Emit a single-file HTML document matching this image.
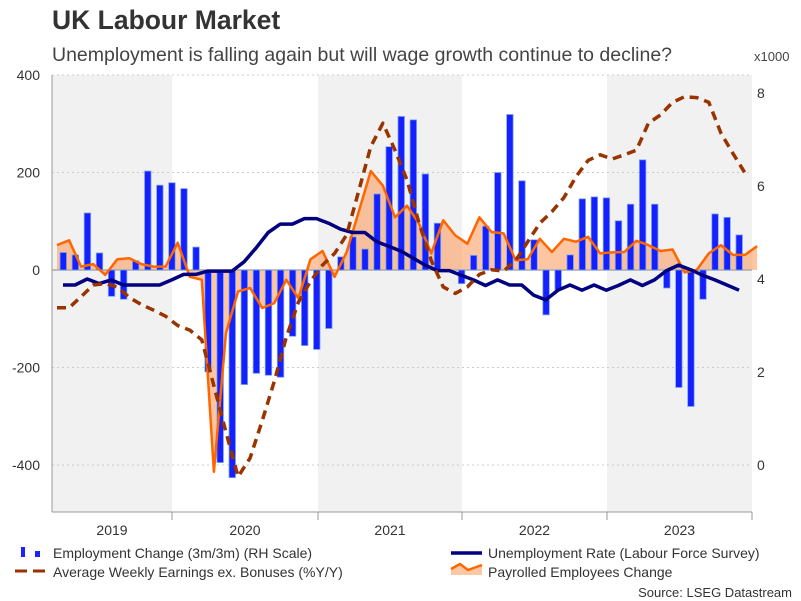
<!DOCTYPE html>
<html><head><meta charset="utf-8">
<style>
body{margin:0;background:#fff;width:801px;height:601px;overflow:hidden;font-family:"Liberation Sans",sans-serif;}
svg{display:block}
</style></head>
<body>
<svg id="chart" width="801" height="601">
<text x="52" y="29" font-size="26.5" font-weight="bold" fill="#333">UK Labour Market</text>
<text x="52" y="61" font-size="19.5" fill="#444">Unemployment is falling again but will wage growth continue to decline?</text>
<text x="754" y="61" font-size="13" fill="#444">x1000</text>
<g id="bands"></g><g id="grid"></g><g id="area"></g><g id="bars"></g><g id="lines"></g><g id="axes"></g>
<g font-size="14" fill="#333">
<g><rect x="21" y="547" width="4" height="10" fill="#1a22ff"/><rect x="35" y="551" width="5" height="6" fill="#1a22ff"/><text x="53" y="558">Employment Change (3m/3m) (RH Scale)</text></g>
<g><line x1="15" y1="571" x2="46" y2="571" stroke="#993300" stroke-width="3" stroke-dasharray="12,6"/><text x="53" y="577">Average Weekly Earnings ex. Bonuses (%Y/Y)</text></g>
<g><line x1="451" y1="553" x2="482" y2="553" stroke="#000080" stroke-width="3.5"/><text x="488" y="558">Unemployment Rate (Labour Force Survey)</text></g>
<g><path d="M451 569 L460 564 L468 570 L482 565 L482 575 L451 575Z" fill="#fbc7a4"/><path d="M451 569 L460 564 L468 570 L482 565" fill="none" stroke="#ff6600" stroke-width="2.5"/><text x="488" y="577">Payrolled Employees Change</text></g>
</g>
<text x="792" y="597" font-size="13" fill="#333" text-anchor="end">Source: LSEG Datastream</text>
</svg>
<script>
const years=["2019","2020","2021","2022","2023"];
const leftTicks=[400,200,0,-200,-400];
const rightTicks=[8,6,4,2,0];
const employmentChange=[36,31,117,35,-54,-60,19,203,174,179,167,47,-209,-395,-426,-235,-212,-216,-220,-136,-155,-163,-120,27,68,43,156,253,315,308,197,96,0,-28,30,90,200,319,183,62,-92,-41,31,146,150,148,101,135,226,135,-37,-241,-280,-60,115,108,72];
const payrolled=[51,61,7,12,-10,22,24,12,7,7,56,-14,-20,-414,-129,-44,-37,-78,-68,-20,-58,22,39,-14,37,120,203,173,108,132,95,34,102,71,54,108,78,75,20,22,64,37,64,58,68,34,36,37,60,51,39,42,-5,0,34,51,31,31,49];
const unemployment=[3.87,3.87,4.0,3.9,3.98,3.87,3.87,3.87,3.87,3.98,4.1,4.1,4.17,4.17,4.17,4.37,4.67,5.0,5.18,5.18,5.3,5.3,5.2,5.07,5.0,5.0,4.8,4.7,4.6,4.45,4.3,4.18,4.18,4.08,3.98,3.86,3.98,3.87,3.87,3.65,3.55,3.76,3.87,3.76,3.87,3.76,3.86,3.98,3.86,3.98,4.18,4.3,4.2,4.08,3.98,3.87,3.76];
const earnings=[3.38,3.38,3.62,3.87,3.9,3.83,3.6,3.45,3.33,3.2,3.0,2.9,2.69,1.7,0.7,-0.25,0.15,0.95,1.8,2.75,3.5,3.95,4.3,4.55,4.95,5.9,6.85,7.35,6.77,6.13,5.2,4.4,3.83,3.69,3.83,4.1,4.2,4.17,4.4,4.8,5.2,5.45,5.75,6.2,6.55,6.67,6.58,6.67,6.77,7.35,7.53,7.8,7.92,7.9,7.8,7.14,6.7,6.28];

const NS="http://www.w3.org/2000/svg";
const X0=52,X1=752,YT=75,YB=512;
const xm=i=>57+i*12.07;
const yL=v=>270-v*0.4875;
const yR=v=>465-v*46.5;
const xYear=k=>[52,172,318,462,607,752][k];
function mk(tag,attrs,parent){const e=document.createElementNS(NS,tag);for(const k in attrs)e.setAttribute(k,attrs[k]);document.getElementById(parent).appendChild(e);return e;}

years.forEach((y,k)=>{
  if(k%2===0){const r=mk('rect',{x:xYear(k),y:YT,width:xYear(k+1)-xYear(k),height:YB-YT,fill:'#f1f1f1'},'bands');
  
  }
  const t=mk('text',{x:(xYear(k)+xYear(k+1))/2,y:535,'font-size':14,fill:'#333','text-anchor':'middle'},'axes');t.textContent=y;
  
  
});
for(let k=1;k<=5;k++){const l=mk('line',{x1:xYear(k),x2:xYear(k),y1:512,y2:520,stroke:'#999'},'axes');
  
  }
leftTicks.forEach(v=>{
  if(v!==0){const g=mk('line',{x1:X0,x2:X1,y1:yL(v),y2:yL(v),stroke:'#ccc','stroke-dasharray':'2,3'},'grid');
  
  }
  const t=mk('text',{x:40,y:yL(v)+5,'font-size':14,fill:'#333','text-anchor':'end'},'axes');t.textContent=v;
  
  
});
rightTicks.forEach(v=>{
  const t=mk('text',{x:757,y:yR(v)+5,'font-size':14,fill:'#333'},'axes');t.textContent=v;
  
  
});
let a=mk('line',{x1:X0,x2:X0,y1:YT,y2:YB,stroke:'#999'},'axes');


a=mk('line',{x1:X0,x2:X1,y1:YB,y2:YB,stroke:'#999'},'axes');



let pts=payrolled.map((v,i)=>xm(i).toFixed(1)+','+yL(v).toFixed(1));
let ar=mk('path',{d:'M'+xm(0)+','+yL(0)+' L'+pts.join(' L')+' L'+xm(payrolled.length-1)+','+yL(0)+'Z',fill:'#fb9e62','fill-opacity':0.6},'area');


let z=mk('line',{x1:X0,x2:X1,y1:yL(0),y2:yL(0),stroke:'#aaa','stroke-width':1.5},'area');



employmentChange.forEach((v,i)=>{
  const y0=yL(0), y1=yL(v);
  const r=mk('rect',{x:xm(i+0.5)-3,y:Math.min(y0,y1),width:6.5,height:Math.max(1,Math.abs(y1-y0)),fill:'#1420ff',stroke:'#7fa6e6','stroke-width':0.8},'bars');
  
  
});
let pl=mk('polyline',{points:pts.join(' '),fill:'none',stroke:'#ff6600','stroke-width':2.5,'stroke-linejoin':'round'},'lines');


let ul=mk('polyline',{points:unemployment.map((v,i)=>xm(i+0.5).toFixed(1)+','+yR(v).toFixed(1)).join(' '),fill:'none',stroke:'#000080','stroke-width':3.5,'stroke-linejoin':'round'},'lines');


let el=mk('polyline',{points:earnings.map((v,i)=>xm(i).toFixed(1)+','+yR(v).toFixed(1)).join(' '),fill:'none',stroke:'#993300','stroke-width':3.5,'stroke-dasharray':'9,6','stroke-linejoin':'round'},'lines');


</script>
</body></html>
